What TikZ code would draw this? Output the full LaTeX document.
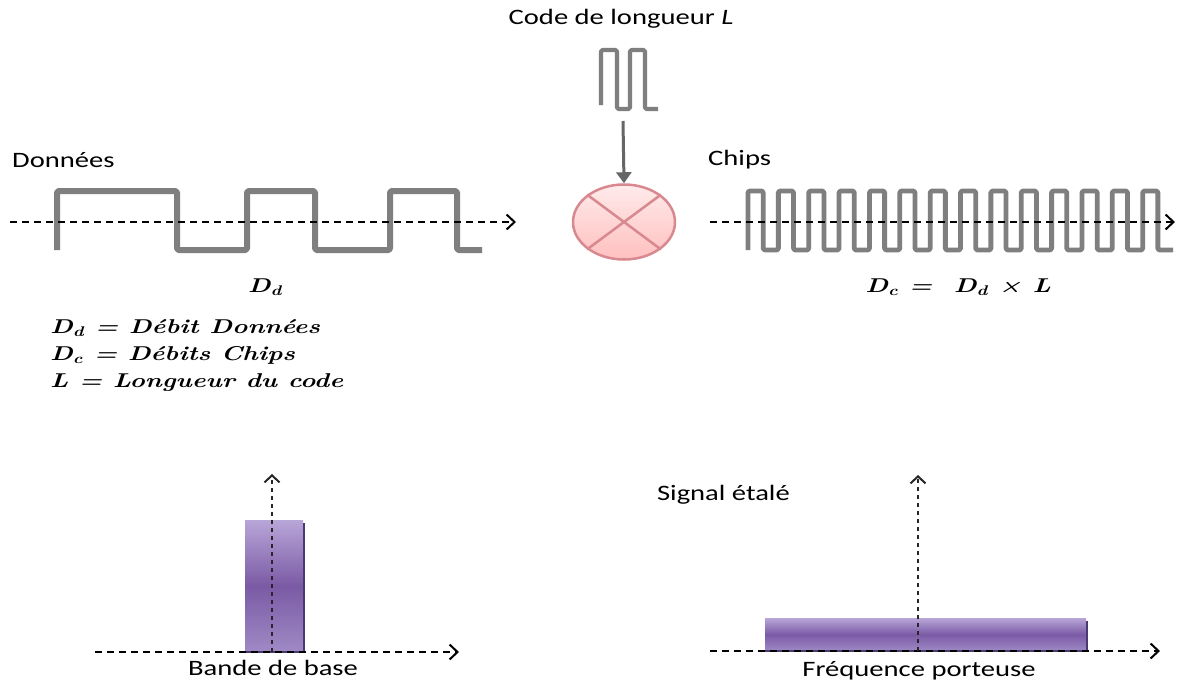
\documentclass[tikz,border=0pt]{standalone}
\usepackage{fontspec}
\usepackage{graphicx}
\usetikzlibrary{arrows.meta,shapes.geometric}
\newfontfamily\calib{Carlito}
\newcommand\wtxt[1]{\scalebox{1.3}[1]{#1}}
\definecolor{wave}{HTML}{7F7F7F}
\definecolor{pinkedge}{HTML}{D8888F}
\definecolor{purpdark}{HTML}{4B3A72}
\definecolor{purptop}{HTML}{B9A6D8}
\definecolor{purpmid}{HTML}{7A5AA5}
\definecolor{purpbot}{HTML}{A08AC6}
\tikzset{
  lbl/.style={inner sep=0pt, font=\calib\fontsize{22}{26}\selectfont},
  mlbl/.style={inner sep=0pt, font=\bfseries\itshape\fontsize{20}{24}\selectfont},
  wavy/.style={draw=wave, line width=5pt, rounded corners=1.5pt, line join=round},
  axis/.style={draw=black, line width=2pt, dash pattern=on 7pt off 5pt, -{Straight Barb[length=8pt,width=15pt,line width=2pt]}},
  vaxis/.style={draw=black!85, line width=2.6pt, dash pattern=on 4pt off 4pt, -{Straight Barb[length=7pt,width=15pt,line width=2pt]}},
  barfill/.style={top color=purptop, bottom color=purpbot, middle color=purpmid},
}
\begin{document}
\begin{tikzpicture}[x=1pt,y=-1pt]
\useasboundingbox (0,0) rectangle (1183,688);
\fill[white] (0,0) rectangle (1183,688);

% ---------- labels top
\node[lbl] (codelbl) at (621,19) {\wtxt{Code de longueur \textit{L}}};
\node[lbl, anchor=west] (donnees) at (12,160) {\wtxt{Données}};
\node[lbl, anchor=west] (chips) at (708,160) {\wtxt{Chips}};

% ---------- code waveform
\draw[wavy, line width=4.2pt] (601,105) -- (601,50) -- (617,50) -- (617,109) -- (630,109) -- (630,50) -- (645,50) -- (645,109) -- (658,109);

% ---------- multiplier
\node[ellipse, minimum width=102pt, minimum height=75pt, draw=pinkedge, line width=2.5pt,
      top color=white!92!red, bottom color=red!25!white!90!pink, inner sep=0pt] (mult) at (624,222) {};
\draw[pinkedge, line width=2.5pt] (mult.north west) -- (mult.south east);
\draw[pinkedge, line width=2.5pt] (mult.north east) -- (mult.south west);
\coordinate (codeout) at (623,121);
\draw[draw=black!60, line width=3pt, -{Triangle[length=11pt,width=15pt]}] (codeout) -- (mult.north);

% ---------- data axis and waveform
\coordinate (dstart) at (10,222);
\coordinate (dend) at (516,222);
\draw[wavy, line width=6pt] (57,250) -- (57,191) -- (177,191) -- (177,250) -- (247,250) -- (247,191) -- (315,191) -- (315,250) -- (390,250) -- (390,191) -- (457,191) -- (457,250) -- (482,250);
\draw[axis] (dstart) -- (dend);

% ---------- chips axis and waveform
\coordinate (cstart) at (710,222);
\coordinate (cend) at (1175,222);
\draw[wavy, line width=4.8pt] (748,250) \foreach \i in {0,...,13} { -- ++(0,-59) -- ++(15.18,0) -- ++(0,59) -- ++(15.18,0) };
\draw[axis] (cstart) -- (cend);

% ---------- math labels
\node[mlbl] (dd) at (265,287) {\wtxt{D\textsubscript{d}}};
\node[mlbl] (dc) at (958,287) {\wtxt{D\textsubscript{c} =\ \ D\textsubscript{d} × L}};
\node[mlbl, anchor=west] (def1) at (50,328) {\wtxt{D\textsubscript{d} = Débit Données}};
\node[mlbl, anchor=west] (def2) at (50,355) {\wtxt{D\textsubscript{c} = Débits Chips}};
\node[mlbl, anchor=west] (def3) at (50,383) {\wtxt{L = Longueur du code}};

% ---------- bottom left spectrum
\shade[barfill] (245,520) rectangle (303,652);
\draw[purpdark, line width=2.2pt] (304,523) -- (304,652);
\coordinate (blx0) at (95,652);
\coordinate (blx1) at (459,652);
\coordinate (bly0) at (272,652);
\coordinate (bly1) at (272,474);
\draw[purpdark, line width=2.2pt] (245,652) -- (305,652);
\draw[axis] (blx0) -- (blx1);
\draw[vaxis] (bly0) -- (bly1);
\node[lbl] (bande) at (273,668) {\wtxt{Bande de base}};

% ---------- bottom right spectrum
\shade[barfill] (765,618) rectangle (1086,651);
\draw[purpdark, line width=2.2pt] (1087,621) -- (1087,651);
\draw[purpdark, line width=2.2pt] (765,651) -- (1088,651);
\coordinate (brx0) at (710,651);
\coordinate (brx1) at (1160,651);
\coordinate (bry0) at (918,651);
\coordinate (bry1) at (918,475);
\draw[axis] (brx0) -- (brx1);
\draw[vaxis] (bry0) -- (bry1);
\node[lbl, anchor=east] (signal) at (790,495) {\wtxt{Signal étalé}};
\node[lbl] (freq) at (919,671) {\wtxt{Fréquence porteuse}};
\end{tikzpicture}
\end{document}
